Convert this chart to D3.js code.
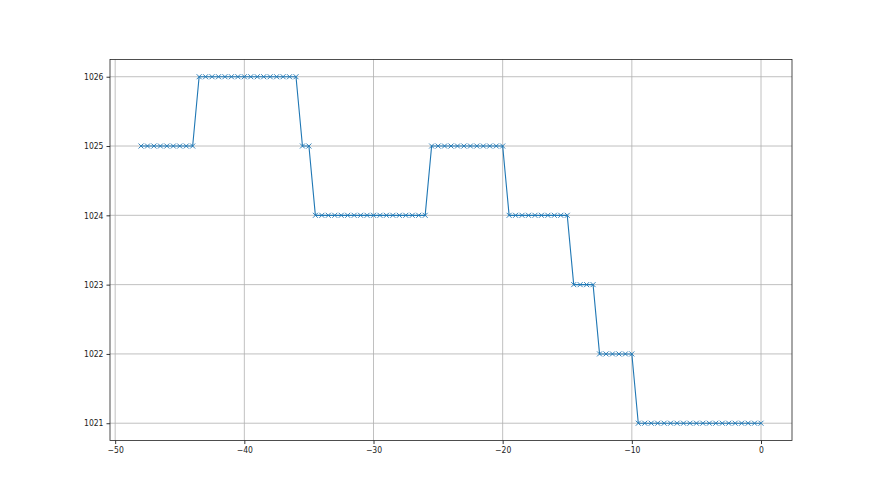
<!DOCTYPE html>
<html><head><meta charset="utf-8">
<script src="https://cdn.jsdelivr.net/npm/d3@7"></script>
<style>body{margin:0;background:#fff}svg{display:block}</style>
</head><body>
<svg id="c" width="880" height="495"></svg>
<script>
// x positions (time offsets) and pressure values
const xs = [-48,-47.5,-47,-46.5,-46,-45.5,-45,-44.5,-44,
  -43.5,-43,-42.5,-42,-41.5,-41,-40.5,-40,-39.5,-39,-38.5,-38,-37.5,-37,-36.5,-36,
  -35.5,-35,
  -34.5,-34,-33.5,-33,-32.5,-32,-31.5,-31,-30.5,-30,-29.5,-29,-28.5,-28,-27.5,-27,-26.5,-26,
  -25.5,-25,-24.5,-24,-23.5,-23,-22.5,-22,-21.5,-21,-20.5,-20,
  -19.5,-19,-18.5,-18,-17.5,-17,-16.5,-16,-15.5,-15,
  -14.5,-14,-13.5,-13,
  -12.5,-12,-11.5,-11,-10.5,-10,
  -9.5,-9,-8.5,-8,-7.5,-7,-6.5,-6,-5.5,-5,-4.5,-4,-3.5,-3,-2.5,-2,-1.5,-1,-0.5,0];
const ys = [1025,1025,1025,1025,1025,1025,1025,1025,1025,
  1026,1026,1026,1026,1026,1026,1026,1026,1026,1026,1026,1026,1026,1026,1026,1026,
  1025,1025,
  1024,1024,1024,1024,1024,1024,1024,1024,1024,1024,1024,1024,1024,1024,1024,1024,1024,1024,
  1025,1025,1025,1025,1025,1025,1025,1025,1025,1025,1025,1025,
  1024,1024,1024,1024,1024,1024,1024,1024,1024,1024,
  1023,1023,1023,1023,
  1022,1022,1022,1022,1022,1022,
  1021,1021,1021,1021,1021,1021,1021,1021,1021,1021,1021,1021,1021,1021,1021,1021,1021,1021,1021,1021];
const xTicks = [-50,-40,-30,-20,-10,0];
const yTicks = [1021,1022,1023,1024,1025,1026];

const L=110, R=792, T=59.4, B=440.55;
const svg = d3.select("#c");
const xmin=d3.min(xs), xmax=d3.max(xs), ymin=d3.min(ys), ymax=d3.max(ys);
const xp=(xmax-xmin)*0.05, yp=(ymax-ymin)*0.05;
const x = d3.scaleLinear().domain([xmin-xp, xmax+xp]).range([L,R]);
const y = d3.scaleLinear().domain([ymin-yp, ymax+yp]).range([B,T]);
const fmt = d => String(d).replace("-", "\u2212");

// grid
const g = svg.append("g");
g.selectAll(".gx").data(xTicks).enter().append("line")
  .attr("x1",d=>x(d)).attr("x2",d=>x(d)).attr("y1",T).attr("y2",B)
  .attr("stroke","#b0b0b0").attr("stroke-width",0.8);
g.selectAll(".gy").data(yTicks).enter().append("line")
  .attr("y1",d=>y(d)).attr("y2",d=>y(d)).attr("x1",L).attr("x2",R)
  .attr("stroke","#b0b0b0").attr("stroke-width",0.8);

// line
const data = xs.map((v,i)=>[v,ys[i]]);
svg.append("path").datum(data)
  .attr("d", d3.line().x(d=>x(d[0])).y(d=>y(d[1])))
  .attr("fill","none").attr("stroke","#1f77b4").attr("stroke-width",1.1);
// markers
const s=2.5;
svg.append("g").selectAll("path").data(data).enter().append("path")
  .attr("d", d=>{const cx=x(d[0]), cy=y(d[1]);
    return `M${cx-s},${cy-s}L${cx+s},${cy+s}M${cx-s},${cy+s}L${cx+s},${cy-s}`;})
  .attr("stroke","#1f77b4").attr("stroke-width",0.9).attr("fill","none");

// axes
const xa = svg.append("g").attr("transform",`translate(0,${B})`)
  .call(d3.axisBottom(x).tickValues(xTicks).tickFormat(fmt).tickSize(3.5).tickPadding(3));
const ya = svg.append("g").attr("transform",`translate(${L},0)`)
  .call(d3.axisLeft(y).tickValues(yTicks).tickFormat(d3.format("d")).tickSize(3.5).tickPadding(3));
[xa,ya].forEach(a=>{a.select(".domain").remove();
  a.selectAll("line").attr("stroke","#000").attr("stroke-width",0.8);
  a.selectAll("text").attr("font-family","'DejaVu Sans Condensed','DejaVu Sans',sans-serif")
    .attr("font-stretch","condensed").attr("font-size",8.5).attr("fill","#222");});

// frame
svg.append("rect").attr("x",L).attr("y",T).attr("width",R-L).attr("height",B-T)
  .attr("fill","none").attr("stroke","#222").attr("stroke-width",0.8);
</script>
</body></html>
